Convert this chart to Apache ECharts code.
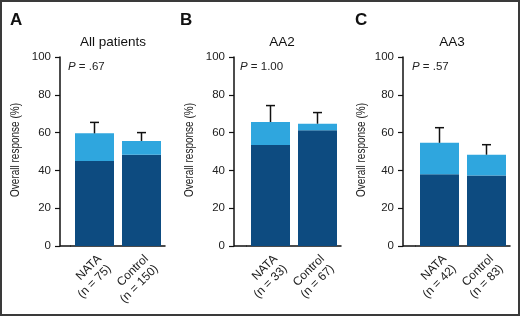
<!DOCTYPE html>
<html style="height: 100%">
<head>
    <meta charset="utf-8">
    <script src="https://cdn.jsdelivr.net/npm/echarts@6/dist/echarts.min.js"></script>
</head>
<body style="margin:0; height:316px; width:520px; background-color:#fff">
    <div id="container" style="height:316px; width:520px"></div>
    <script type="text/javascript">
        // panel data
        var panelTitles = ['All patients', 'AA2', 'AA3'];
        var panelLetters = ['A', 'B', 'C'];
        var pValues = ['= .67', '= 1.00', '= .57'];
        var yName = 'Overall response (%)';
        var catsA = ['NATA\n(n = 75)', 'Control\n(n = 150)'];
        var catsB = ['NATA\n(n = 33)', 'Control\n(n = 67)'];
        var catsC = ['NATA\n(n = 42)', 'Control\n(n = 83)'];
        var darkA = [45, 48.3];
        var totalA = [59.6, 55.6];
        var errA = [65.4, 60];
        var darkB = [53.4, 61.2];
        var totalB = [65.6, 64.7];
        var errB = [74.3, 70.6];
        var darkC = [38, 37.3];
        var totalC = [54.6, 48.3];
        var errC = [62.6, 53.6];

        var cats = [catsA, catsB, catsC];
        var darks = [darkA, darkB, darkC];
        var totals = [totalA, totalB, totalC];
        var errs = [errA, errB, errC];

        var darkColor = '#0d4b80';
        var lightColor = '#2fa6de';
        var font = 'Liberation Sans, Arial, sans-serif';

        // layout of each panel: axis x position, grid left
        var axisX = [60, 234, 403];
        var gridLeft = [71, 247, 416];
        var gridW = 94, gridTop = 57, gridH = 189;
        var titleX = [113, 282, 452];
        var letterX = [10, 180, 355];
        var pX = [68, 240, 412];
        var nameX = [16, 190, 362];

        var dom = document.getElementById('container');
        var myChart = echarts.init(dom);

        var grids = [], xAxes = [], yAxes = [], series = [], graphics = [];
        for (var i = 0; i < 3; i++) {
            grids.push({ left: gridLeft[i], top: gridTop, width: gridW, height: gridH });
            xAxes.push({
                type: 'category', gridIndex: i, data: cats[i],
                axisLine: { lineStyle: { color: '#111', width: 1.5 } },
                axisTick: { alignWithLabel: true, length: 5, lineStyle: { color: '#111', width: 1.2 } },
                axisLabel: {
                    rotate: 45, margin: 6, fontSize: 12, lineHeight: 14,
                    verticalAlign: 'top',
                    color: '#222', fontFamily: font
                }
            });
            yAxes.push({
                type: 'value', gridIndex: i, min: 0, max: 100, interval: 20,
                offset: gridLeft[i] - axisX[i],
                splitLine: { show: false },
                axisLine: { show: true, lineStyle: { color: '#111', width: 1.5 } },
                axisTick: { show: true, length: 5, lineStyle: { color: '#111', width: 1.2 } },
                axisLabel: { fontSize: 11.5, color: '#222', fontFamily: font, margin: 9 }
            });
            var lightVals = totals[i].map(function (t, k) { return +(t - darks[i][k]).toFixed(1); });
            series.push({
                type: 'bar', xAxisIndex: i, yAxisIndex: i, stack: 's' + i,
                barWidth: 39, data: darks[i], itemStyle: { color: darkColor }, silent: true
            });
            series.push({
                type: 'bar', xAxisIndex: i, yAxisIndex: i, stack: 's' + i,
                barWidth: 39, data: lightVals, itemStyle: { color: lightColor }, silent: true
            });
            series.push({
                type: 'custom', xAxisIndex: i, yAxisIndex: i, silent: true,
                data: totals[i].map(function (t, k) { return [k, t, errs[i][k]]; }),
                renderItem: function (params, api) {
                    var lo = api.coord([api.value(0), api.value(1)]);
                    var hi = api.coord([api.value(0), api.value(2)]);
                    var style = { stroke: '#111', lineWidth: 1.5 };
                    return {
                        type: 'group', children: [
                            { type: 'line', shape: { x1: lo[0], y1: lo[1], x2: hi[0], y2: hi[1] }, style: style },
                            { type: 'line', shape: { x1: hi[0] - 4.5, y1: hi[1], x2: hi[0] + 4.5, y2: hi[1] }, style: style }
                        ]
                    };
                },
                z: 5
            });
            // x axis line continues left to the y axis
            graphics.push({
                type: 'line', shape: { x1: axisX[i], y1: gridTop + gridH, x2: gridLeft[i], y2: gridTop + gridH },
                style: { stroke: '#111', lineWidth: 1.5 }
            });
            // condensed y axis name
            graphics.push({
                type: 'text', x: nameX[i], y: 150, rotation: Math.PI / 2, scaleX: 0.8,
                style: { text: yName, fontSize: 12.5, fill: '#222', fontFamily: font, align: 'center', verticalAlign: 'middle' }
            });
            graphics.push({
                type: 'text', x: titleX[i], y: 42,
                style: { text: panelTitles[i], fontSize: 13.5, fill: '#111', fontFamily: font, align: 'center', verticalAlign: 'middle' }
            });
            graphics.push({
                type: 'text', x: letterX[i], y: 20,
                style: { text: panelLetters[i], fontSize: 17, fontWeight: 'bold', fill: '#111', fontFamily: font, verticalAlign: 'middle' }
            });
            graphics.push({
                type: 'text', x: pX[i], y: 67,
                style: {
                    text: '{p|P} ' + pValues[i], fontSize: 11.5, fill: '#222', fontFamily: font, verticalAlign: 'middle',
                    rich: { p: { fontStyle: 'italic', fontSize: 11.5, fontFamily: font, fill: '#222' } }
                }
            });
        }
        graphics.push({
            type: 'rect', shape: { x: 1, y: 1, width: 518, height: 314 },
            style: { fill: 'none', stroke: '#3a3a3a', lineWidth: 2 }, z: 10
        });

        var option = {
            animation: false,
            grid: grids,
            xAxis: xAxes,
            yAxis: yAxes,
            series: series,
            graphic: graphics
        };
        myChart.setOption(option);
    </script>
</body>
</html>
